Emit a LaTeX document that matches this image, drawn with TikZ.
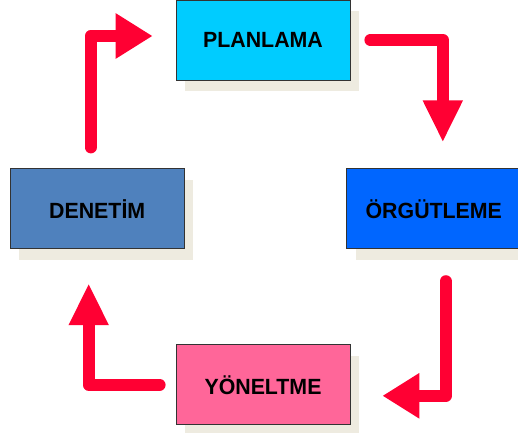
\documentclass[tikz,border=0pt]{standalone}
\usepackage{fontspec}
\setmainfont{Liberation Sans}
\usepackage{tikz}
\usetikzlibrary{positioning}
\usetikzlibrary{arrows.meta}
\usetikzlibrary{shadows}

\definecolor{planc}{HTML}{00CCFF}
\definecolor{orgc}{HTML}{0066FF}
\definecolor{yonc}{HTML}{FF6699}
\definecolor{denc}{HTML}{4F81BD}
\definecolor{shadowc}{HTML}{EEEBE0}
\definecolor{flowc}{HTML}{FF0033}

\tikzset{
  box/.style={draw=black!80, line width=0.8pt, minimum width=174pt, minimum height=80pt,
    font=\fontsize{22pt}{25pt}\selectfont\bfseries\addfontfeature{FakeStretch=0.97}, inner sep=0pt,
    drop shadow={shadow xshift=9pt, shadow yshift=-11pt, fill=shadowc, opacity=1}},
  flow/.style={draw=flowc, line width=12pt, line cap=round, line join=round},
  tiph/.style={-{Triangle[width=43pt,length=37pt]}},
  tipv/.style={-{Triangle[width=37pt,length=42pt]}}
}

\begin{document}
\begin{tikzpicture}[x=1pt,y=1pt]
    \useasboundingbox (0,0) rectangle (518,432);

    % Define nodes
    \node[box, fill=planc]                              (plan) at (263,392) {PLANLAMA};
    \node[box, fill=yonc, below=264pt of plan]          (yon)  {YÖNELTME};
    \node[box, fill=denc, below left=88pt and -9pt of plan]  (den) {DENETİM};
    \node[box, fill=orgc, below right=88pt and -4pt of plan] (org) {ÖRGÜTLEME};

    % Connect the nodes
    \draw[flow, tiph] ([shift={(-6.5pt,21pt)}]den.north) |- ([shift={(-23pt,4pt)}]plan.west);
    \draw[flow, tipv] ([xshift=20pt]plan.east) -| ([shift={(9pt,26pt)}]org.north);
    \draw[flow, tiph] ([shift={(12pt,-32pt)}]org.south) |- ([shift={(32pt,-11pt)}]yon.east);
    \draw[flow, tipv] ([xshift=-16pt]yon.west) -| ([shift={(-8.5pt,-34pt)}]den.south);
\end{tikzpicture}
\end{document}
